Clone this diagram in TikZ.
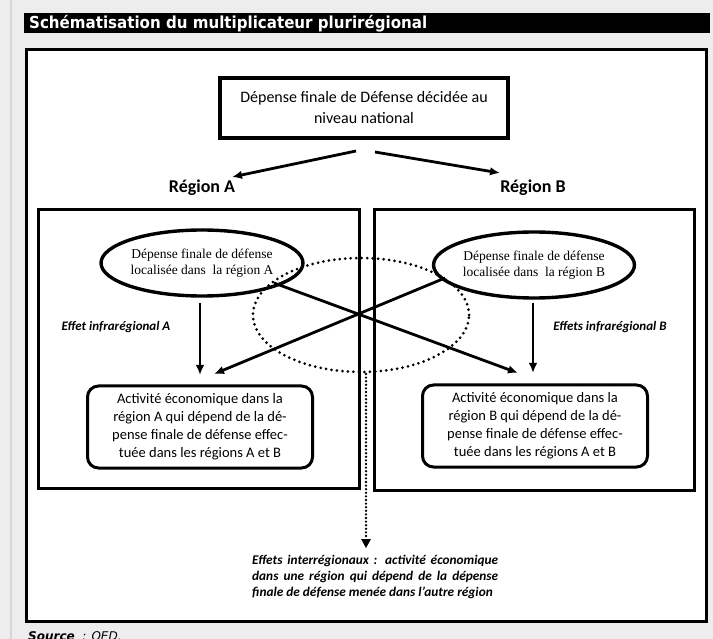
\documentclass[tikz,border=0pt]{standalone}
\usepackage{fontspec}
\setmainfont{Carlito}
\newfontfamily\serifA{Liberation Serif}
\newfontfamily\dejavu{DejaVu Sans}
\usetikzlibrary{arrows.meta,shapes.geometric,calc}
\definecolor{bggray}{HTML}{EDEDED}
\definecolor{edgegray}{HTML}{D6D6D6}
\tikzset{
  regbox/.style={draw,line width=3pt},
  ellnode/.style={draw,ellipse,line width=3.4pt,minimum width=186pt,minimum height=66pt,inner sep=0pt,align=center,font=\serifA\fontsize{13.5}{16}\selectfont},
  actbox/.style={draw,rounded corners=11pt,line width=3pt,minimum width=225pt,minimum height=82pt,align=center,font=\fontsize{14.5}{18}\selectfont},
  conn/.style={line width=2.8pt,-{Latex[length=10pt,width=8.5pt]}},
  infra/.style={font=\bfseries\itshape\fontsize{13}{15}\selectfont},
  reglabel/.style={font=\bfseries\fontsize{18}{20}\selectfont},
}
\begin{document}
\begin{tikzpicture}[x=1pt,y=-1pt]
\useasboundingbox (0,0) rectangle (713,639);
\fill[bggray] (0,0) rectangle (713,639);
\draw[edgegray,line width=1.5pt] (11,0) -- (11,639);
% title bar
\fill[black] (24,13) rectangle (710,33);
\node[anchor=west,inner sep=0pt,text=white,font=\dejavu\bfseries\fontsize{16.5}{18}\selectfont] (title) at (29,23.5) {\resizebox{398pt}{\height}{Schématisation du multiplicateur plurirégional}};
% frame
\draw[fill=white,line width=3.5pt] (26.5,49.5) rectangle (706.5,621.5);
% top box
\node[draw,line width=3.5pt,minimum width=288pt,minimum height=60pt,align=center,font=\fontsize{16}{21}\selectfont] (top) at (364,108) {Dépense finale de Défense décidée au\\niveau national};
\coordinate (tl) at (356,151);
\coordinate (tr) at (375,152);
\coordinate (ra) at (232,177);
\coordinate (rb) at (500,173);
\draw[conn] (tl) -- (ra);
\draw[conn] (tr) -- (rb);
\node[reglabel] (labA) at (202,188) {Région A};
\node[reglabel] (labB) at (533,188) {Région B};
% region boxes
\draw[regbox] (38,210) rectangle (359,488);
\draw[regbox] (374,210) rectangle (694,490);
% ellipses
\node[ellnode] (eA) at (202,263) {Dépense finale de défense\\localisée dans\ \ la région A};
\node[ellnode] (eB) at (534,265) {Dépense finale de défense\\localisée dans\ \ la région B};
% activity boxes
\node[actbox] (aA) at (200,427) {Activité économique dans la\\région A qui dépend de la dé-\\pense finale de défense effec-\\tuée dans les régions A et B};
\node[actbox] (aB) at (535,426) {Activité économique dans la\\région B qui dépend de la dé-\\pense finale de défense effec-\\tuée dans les régions A et B};
% vertical arrows
\coordinate (vAs) at (200,303);
\coordinate (vAe) at (200,375);
\coordinate (vBs) at (533,303);
\coordinate (vBe) at (533,373);
\draw[conn] (vAs) -- (vAe);
\draw[conn] (vBs) -- (vBe);
\node[infra] (iA) at (116,327) {Effet infrarégional A};
\node[infra] (iB) at (610,327) {Effets infrarégional B};
% crossing lines
\coordinate (cAs) at (274,283);
\coordinate (cAe) at (518,373);
\coordinate (cBs) at (445,278);
\coordinate (cBe) at (214,374);
\draw[conn] (cAs) -- (cAe);
\draw[conn] (cBs) -- (cBe);
% dotted ellipse
\draw[line width=3pt,line cap=round,dash pattern=on 0pt off 5.5pt] (361,315) ellipse [x radius=108pt,y radius=57pt];
% dotted arrow
\coordinate (dS) at (366,374);
\coordinate (dM) at (366,539);
\coordinate (dE) at (366,548);
\draw[line width=2.6pt,line cap=round,dash pattern=on 0pt off 3.6pt] (dS) -- (dM);
\fill (dE) -- ++(-5,-9) -- ++(10,0) -- cycle;
% bottom text
\node[anchor=north west,inner sep=0pt,align=left,font=\bfseries\itshape\fontsize{13.3}{16.2}\selectfont] (inter) at (252,555) {\makebox[246pt][s]{Effets interrégionaux : activité économique}\\\makebox[246pt][s]{dans une région qui dépend de la dépense}\\finale de défense menée dans l’autre région};
% source
\node[anchor=base west,inner sep=0pt,font=\dejavu\itshape\fontsize{12}{14}\selectfont] (src) at (28,640) {\textbf{Source} \ : OED.};
\end{tikzpicture}
\end{document}
